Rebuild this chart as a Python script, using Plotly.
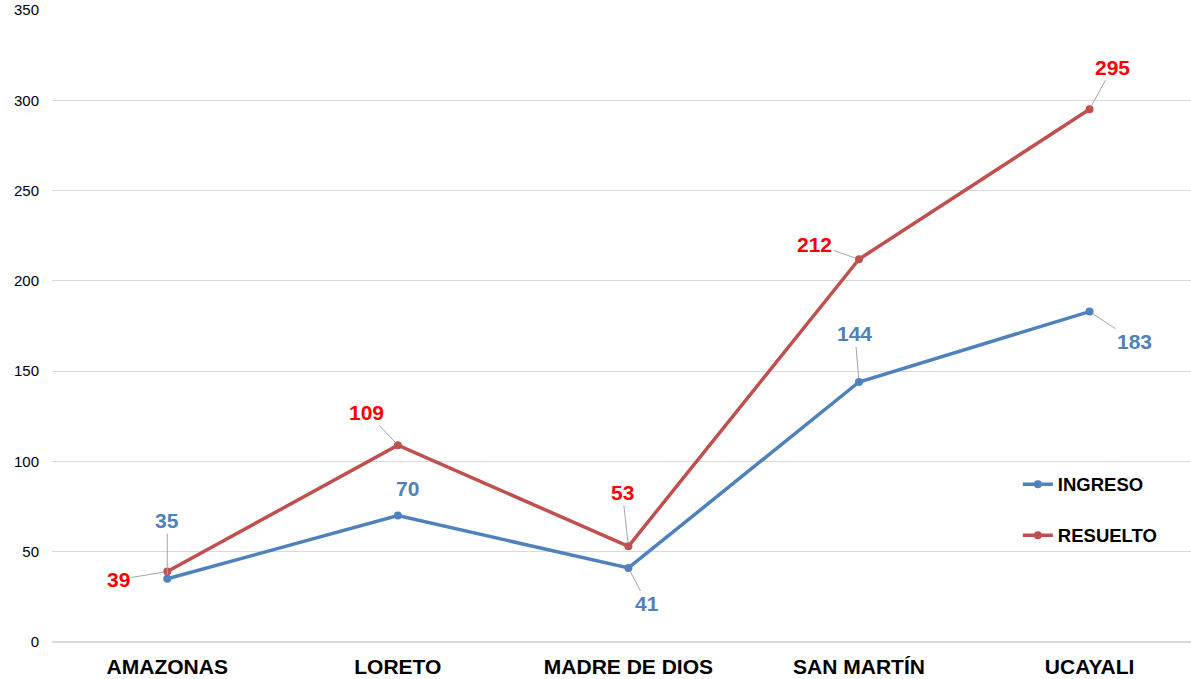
import plotly.graph_objects as go

categories = ["AMAZONAS", "LORETO", "MADRE DE DIOS", "SAN MARTÍN", "UCAYALI"]
ingreso = [35, 70, 41, 144, 183]
resuelto = [39, 109, 53, 212, 295]
y_ticks = [0, 50, 100, 150, 200, 250, 300, 350]

BLUE = "#4F81BD"
RED = "#C0504D"
RED_LABEL = "#FF0000"
BLUE_LABEL = "#4F81BD"
FONT = "Liberation Sans, Arial"

fig = go.Figure()
fig.add_trace(go.Scatter(
    x=categories, y=ingreso, name="<b>INGRESO</b>", mode="lines+markers",
    line=dict(color=BLUE, width=3.5), marker=dict(size=8, color=BLUE),
    legendgroup="a",
))
fig.add_trace(go.Scatter(
    x=categories, y=resuelto, name="<b>RESUELTO</b>", mode="lines+markers",
    line=dict(color=RED, width=3.5), marker=dict(size=8, color=RED),
    legendgroup="b",
))

# label offsets (pixels) from point to label
ing_off = [(0, -58, True), (10, -27, False), (19, 36, True), (-4, -48, True), (45, 30, True)]
res_off = [(-49, 8, True), (-31, -33, True), (-6, -54, True), (-44, -15, True), (23, -42, True)]

for cat, v, (ax, ay, arr) in zip(categories, ingreso, ing_off):
    fig.add_annotation(x=cat, y=v, text=f"<b>{v}</b>", ax=ax, ay=ay, showarrow=arr,
                       xshift=0 if arr else ax, yshift=0 if arr else -ay,
                       arrowhead=0, arrowcolor="#A6A6A6", arrowwidth=1, standoff=4,
                       font=dict(size=21, color=BLUE_LABEL, family=FONT))
for cat, v, (ax, ay, arr) in zip(categories, resuelto, res_off):
    fig.add_annotation(x=cat, y=v, text=f"<b>{v}</b>", ax=ax, ay=ay, showarrow=arr,
                       arrowhead=0, arrowcolor="#A6A6A6", arrowwidth=1, standoff=4,
                       font=dict(size=21, color=RED_LABEL, family=FONT))

fig.update_layout(
    width=1191, height=679,
    margin=dict(l=52, r=0, t=10, b=37, autoexpand=False),
    plot_bgcolor="white", paper_bgcolor="white",
    font=dict(family=FONT, color="#000000"),
    legend=dict(x=0.848, y=0.279, xanchor="left", yanchor="top",
                font=dict(size=18.5, color="#000000", family=FONT),
                tracegroupgap=24, bgcolor="rgba(0,0,0,0)"),
    showlegend=True,
)
fig.update_xaxes(range=[-0.5, 4.44], showgrid=False, showline=False, ticks="",
                 tickfont=dict(size=21, color="#000000", family=FONT),
                 tickprefix="<b>", ticksuffix="</b>", ticklabelstandoff=10)
fig.update_yaxes(range=[0, 350], tickvals=y_ticks, showgrid=True, gridcolor="#D9D9D9",
                 gridwidth=1, zeroline=True, zerolinecolor="#D9D9D9", showline=False,
                 tickfont=dict(size=15, color="#000000", family=FONT),
                 ticklabelstandoff=12)

fig.write_html("out.html", config={"displayModeBar": False},
               post_script="document.body.style.margin='0';")
